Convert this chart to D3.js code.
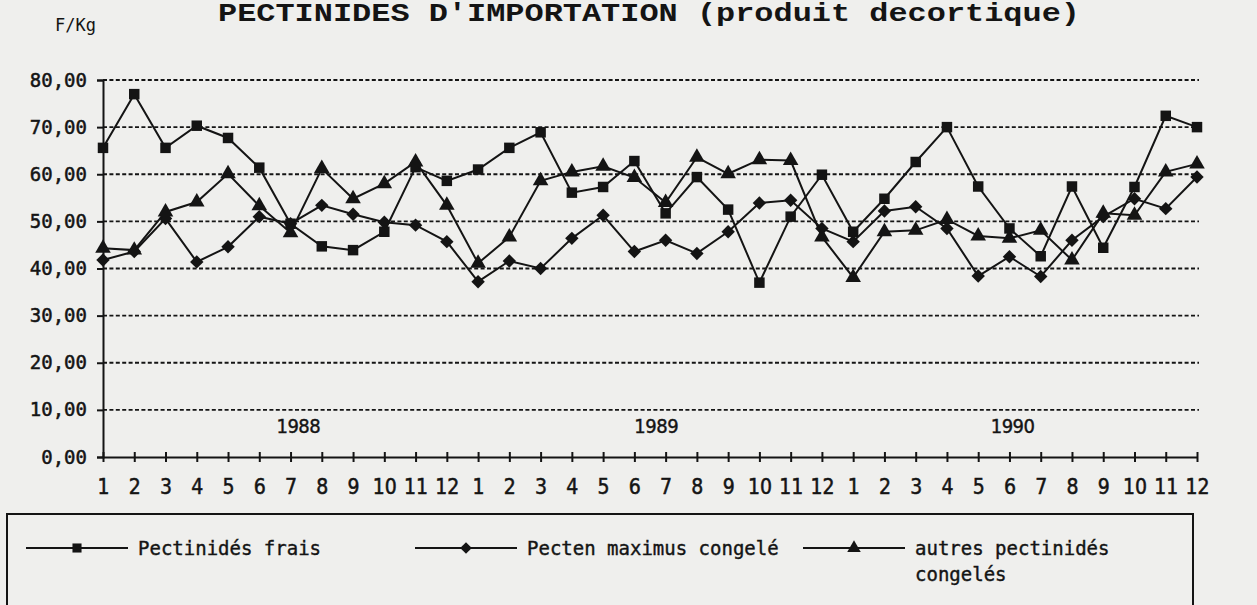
<!DOCTYPE html>
<html lang="fr">
<head>
    <meta charset="UTF-8">
    <script src="https://cdn.jsdelivr.net/npm/d3@7/dist/d3.min.js"></script>
    <title>Pectinidés d'importation</title>
    <style>
        body {
            margin: 0;
            background-color: #efefed;
        }
        svg {
            display: block;
        }
    </style>
</head>
<body>
    <svg id="chart"></svg>
</body>

<script>
    const years = ["1988", "1989", "1990"];
    const months = ["1", "2", "3", "4", "5", "6", "7", "8", "9", "10", "11", "12"];
    // where each year label sits, in months from the first point
    const yearPos = [6.25, 17.7, 29.1];
    const yTicks = [0, 10, 20, 30, 40, 50, 60, 70, 80];

    const frais = [65.6, 77.0, 65.6, 70.3, 67.7, 61.4, 49.5, 44.7, 43.9, 47.8, 61.5, 58.6,
                   61.0, 65.6, 68.9, 56.1, 57.3, 62.8, 51.7, 59.4, 52.5, 37.0, 51.0, 59.9,
                   47.8, 54.8, 62.6, 70.0, 57.4, 48.5, 42.6, 57.4, 44.4, 57.3, 72.4, 70.0];
    const pecten = [41.8, 43.6, 50.6, 41.4, 44.6, 51.0, 49.5, 53.4, 51.5, 49.8, 49.2, 45.7,
                    37.2, 41.6, 40.0, 46.4, 51.3, 43.6, 46.0, 43.2, 47.8, 53.9, 54.5, 48.5,
                    45.7, 52.2, 53.1, 48.5, 38.4, 42.5, 38.3, 46.0, 51.0, 54.8, 52.7, 59.4];
    const autres = [44.3, 43.9, 52.0, 54.1, 60.1, 53.3, 47.6, 61.2, 54.8, 58.0, 62.6, 53.4,
                    41.1, 46.7, 58.6, 60.5, 61.7, 59.3, 54.0, 63.6, 60.1, 63.1, 62.9, 46.7,
                    38.1, 47.8, 48.1, 50.4, 46.9, 46.4, 48.1, 41.8, 51.7, 51.3, 60.5, 62.2];

    // square turned 45deg, the old plotter diamond is not as slim as d3's
    const rhombus = {
        draw(ctx, size) {
            const r = Math.sqrt(size / 2);
            ctx.moveTo(0, -r);
            ctx.lineTo(r, 0);
            ctx.lineTo(0, r);
            ctx.lineTo(-r, 0);
            ctx.closePath();
        }
    };

    const series = [
        {name: "Pectinidés frais", values: frais, symbol: d3.symbolSquare, size: 110},
        {name: "Pecten maximus congelé", values: pecten, symbol: rhombus, size: 90},
        {name: "autres pectinidés|congelés", values: autres, symbol: d3.symbolTriangle, size: 105}
    ];

    const width = 1257;
    const height = 605;
    const ink = "#141414";
    const mono = "'DejaVu Sans Mono', monospace";
    const narrow = "'DejaVu Sans Condensed', 'DejaVu Sans', sans-serif";

    const labels = years.flatMap(y => months.map(m => ({year: y, month: m})));

    const x = d3.scaleLinear([0, labels.length - 1], [103, 1197]);
    const y = d3.scaleLinear([0, 80], [457, 80]);

    const svg = d3.select("#chart")
        .attr("width", width)
        .attr("height", height);

    // title (the scan cuts its top, keep it just inside here)
    svg.append("text")
        .attr("x", 218)
        .attr("y", 21)
        .attr("font-family", "'Liberation Mono', 'Courier New', monospace")
        .attr("font-weight", "bold")
        .attr("font-size", 25)
        .attr("textLength", 862)
        .attr("lengthAdjust", "spacingAndGlyphs")
        .attr("fill", ink)
        .text("PECTINIDES D'IMPORTATION (produit decortique)");

    svg.append("text")
        .attr("x", 55)
        .attr("y", 31)
        .attr("font-family", mono)
        .attr("font-size", 17)
        .attr("fill", ink)
        .text("F/Kg");

    // horizontal dashed grid
    svg.append("g")
        .selectAll("line")
        .data(yTicks.filter(d => d > 0))
        .join("line")
        .attr("x1", x(0))
        .attr("x2", 1199)
        .attr("y1", d => y(d))
        .attr("y2", d => y(d))
        .attr("stroke", ink)
        .attr("stroke-width", 1.8)
        .attr("stroke-dasharray", "4,2.4");

    // y axis
    const yAxis = svg.append("g")
        .attr("transform", `translate(${x(0)},0)`)
        .call(d3.axisLeft(y).tickValues(yTicks).tickSize(6).tickPadding(10)
            .tickFormat(d => d3.format(".2f")(d).replace(".", ",")));
    yAxis.select(".domain").attr("stroke", ink).attr("stroke-width", 2);
    yAxis.selectAll(".tick line").attr("stroke", ink).attr("stroke-width", 2);
    yAxis.selectAll(".tick text")
        .attr("font-family", mono)
        .attr("font-size", 19)
        .attr("fill", ink)
        .attr("stroke", ink)
        .attr("stroke-width", 0.5);

    // x axis, ticks cross the line
    const xAxis = svg.append("g")
        .attr("transform", `translate(0,${y(0)})`)
        .call(d3.axisBottom(x).tickValues(d3.range(labels.length)).tickSize(0).tickPadding(0)
            .tickFormat(i => labels[i].month));
    xAxis.select(".domain").attr("stroke", ink).attr("stroke-width", 2);
    xAxis.selectAll(".tick line")
        .attr("y1", -5)
        .attr("y2", 5)
        .attr("stroke", ink)
        .attr("stroke-width", 2);
    xAxis.selectAll(".tick text")
        .attr("y", 37)
        .attr("dy", null)
        .attr("font-family", narrow)
        .attr("font-size", 21)
        .attr("fill", ink)
        .attr("stroke", ink)
        .attr("stroke-width", 0.5);

    svg.append("g")
        .selectAll("text")
        .data(years)
        .join("text")
        .attr("x", (d, i) => x(yearPos[i]))
        .attr("y", y(5))
        .attr("text-anchor", "middle")
        .attr("font-family", narrow)
        .attr("font-size", 20)
        .attr("letter-spacing", -0.5)
        .attr("fill", ink)
        .attr("stroke", ink)
        .attr("stroke-width", 0.4)
        .text(d => d);

    // series
    const line = d3.line()
        .x((d, i) => x(i))
        .y(d => y(d));

    const sg = svg.append("g")
        .selectAll("g")
        .data(series)
        .join("g");

    sg.append("path")
        .attr("fill", "none")
        .attr("stroke", ink)
        .attr("stroke-width", 2)
        .attr("d", d => line(d.values));

    sg.each(function(s) {
        d3.select(this).selectAll("path.mark")
            .data(s.values)
            .join("path")
            .attr("class", "mark")
            .attr("transform", (d, i) => `translate(${x(i)},${y(d)})`)
            .attr("d", d3.symbol(s.symbol, s.size))
            .attr("fill", ink);
    });

    // legend
    svg.append("rect")
        .attr("x", 7)
        .attr("y", 514)
        .attr("width", 1186)
        .attr("height", 120)
        .attr("fill", "none")
        .attr("stroke", ink)
        .attr("stroke-width", 2);

    const legendX = [26, 415, 803];
    const item = svg.append("g")
        .selectAll("g")
        .data(series)
        .join("g")
        .attr("transform", (d, i) => `translate(${legendX[i]},548)`);

    item.append("line")
        .attr("x1", 0)
        .attr("x2", 102)
        .attr("stroke", ink)
        .attr("stroke-width", 2);

    item.append("path")
        .attr("transform", "translate(51,0)")
        .attr("d", d => d3.symbol(d.symbol, d.size * 0.75)())
        .attr("fill", ink);

    item.append("text")
        .attr("x", 112)
        .attr("y", 7)
        .attr("font-family", mono)
        .attr("font-size", 19)
        .attr("fill", ink)
        .attr("stroke", ink)
        .attr("stroke-width", 0.4)
        .selectAll("tspan")
        .data(d => d.name.split("|"))
        .join("tspan")
        .attr("x", 112)
        .attr("dy", (d, i) => i ? 26 : 0)
        .text(d => d);
</script>
</html>
